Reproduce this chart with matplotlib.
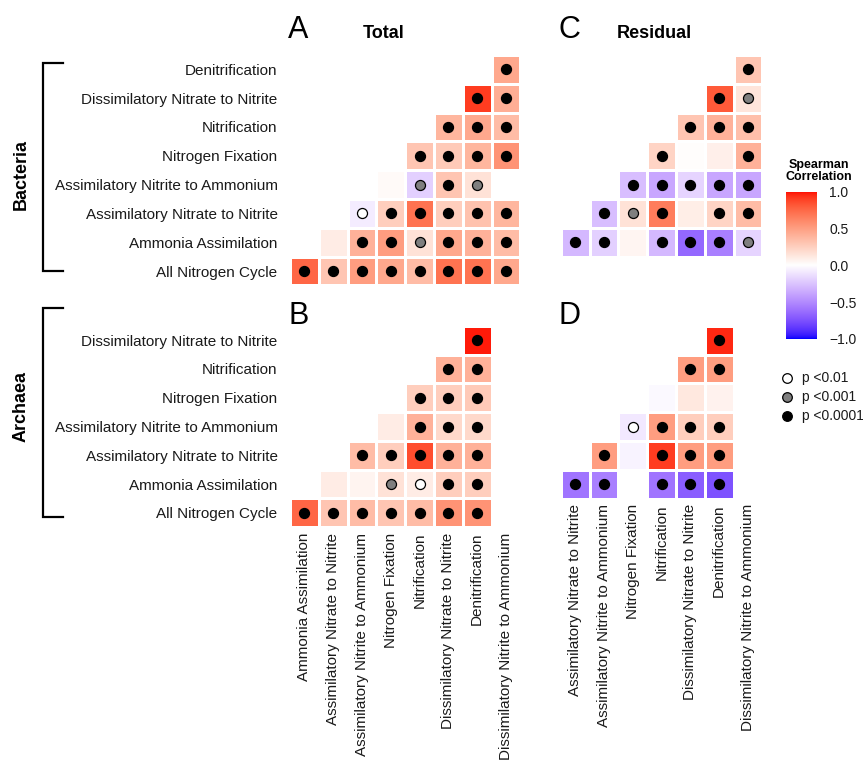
import numpy as np
import matplotlib
matplotlib.use("Agg")
import matplotlib.pyplot as plt
from matplotlib.colors import ListedColormap

plt.rcParams['font.family'] = ['Liberation Sans', 'DejaVu Sans']

W, H = 863, 762

# ---------------- data ----------------
AA = "Ammonia Assimilation"
ANO3 = "Assimilatory Nitrate to Nitrite"
ANO2 = "Assimilatory Nitrite to Ammonium"
NF = "Nitrogen Fixation"
NIT = "Nitrification"
DNO3 = "Dissimilatory Nitrate to Nitrite"
DEN = "Denitrification"
DNRA = "Dissimilatory Nitrite to Ammonium"
ALL = "All Nitrogen Cycle"

nan = np.nan

# Panel A: Total, Bacteria
a_rows = [DEN, DNO3, NIT, NF, ANO2, ANO3, AA, ALL]
a_cols = [AA, ANO3, ANO2, NF, NIT, DNO3, DEN, DNRA]
a_vals = [
    [nan, nan, nan, nan, nan, nan, nan, 0.45],
    [nan, nan, nan, nan, nan, nan, 0.90, 0.42],
    [nan, nan, nan, nan, nan, 0.38, 0.45, 0.35],
    [nan, nan, nan, nan, 0.30, 0.28, 0.38, 0.55],
    [nan, nan, nan, 0.03, -0.20, 0.30, 0.15, nan],
    [nan, nan, -0.08, 0.25, 0.70, 0.25, 0.32, 0.38],
    [nan, 0.10, 0.40, 0.50, 0.15, 0.45, 0.40, 0.35],
    [0.75, 0.30, 0.50, 0.45, 0.35, 0.70, 0.70, 0.45],
]
a_sig = [
    [0, 0, 0, 0, 0, 0, 0, 3],
    [0, 0, 0, 0, 0, 0, 3, 3],
    [0, 0, 0, 0, 0, 3, 3, 3],
    [0, 0, 0, 0, 3, 3, 3, 3],
    [0, 0, 0, 0, 2, 3, 2, 0],
    [0, 0, 1, 3, 3, 3, 3, 3],
    [0, 0, 3, 3, 2, 3, 3, 3],
    [3, 3, 3, 3, 3, 3, 3, 3],
]

# Panel C: Residual, Bacteria
c_rows = [DEN, DNO3, NIT, NF, ANO2, ANO3, AA]
c_cols = [ANO3, ANO2, NF, NIT, DNO3, DEN, DNRA]
c_vals = [
    [nan, nan, nan, nan, nan, nan, 0.30],
    [nan, nan, nan, nan, nan, 0.80, 0.14],
    [nan, nan, nan, nan, 0.30, 0.40, 0.33],
    [nan, nan, nan, 0.22, 0.01, 0.08, 0.40],
    [nan, nan, -0.28, -0.38, -0.18, -0.38, -0.38],
    [nan, -0.28, 0.15, 0.65, 0.09, 0.22, 0.35],
    [-0.30, -0.20, 0.05, -0.30, -0.65, -0.55, -0.18],
]
c_sig = [
    [0, 0, 0, 0, 0, 0, 3],
    [0, 0, 0, 0, 0, 3, 2],
    [0, 0, 0, 0, 3, 3, 3],
    [0, 0, 0, 3, 0, 0, 3],
    [0, 0, 3, 3, 3, 3, 3],
    [0, 3, 2, 3, 0, 3, 3],
    [3, 3, 0, 3, 3, 3, 2],
]

# Panel B: Total, Archaea
b_rows = [DNO3, NIT, NF, ANO2, ANO3, AA, ALL]
b_cols = [AA, ANO3, ANO2, NF, NIT, DNO3, DEN, DNRA]
b_vals = [
    [nan, nan, nan, nan, nan, nan, 0.97, nan],
    [nan, nan, nan, nan, nan, 0.40, 0.40, nan],
    [nan, nan, nan, nan, 0.25, 0.25, 0.28, nan],
    [nan, nan, nan, 0.10, 0.40, 0.20, 0.20, nan],
    [nan, nan, 0.35, 0.25, 0.85, 0.40, 0.40, nan],
    [nan, 0.10, 0.06, 0.15, 0.10, 0.25, 0.25, nan],
    [0.75, 0.30, 0.35, 0.30, 0.35, 0.55, 0.55, nan],
]
b_sig = [
    [0, 0, 0, 0, 0, 0, 3, 0],
    [0, 0, 0, 0, 0, 3, 3, 0],
    [0, 0, 0, 0, 3, 3, 3, 0],
    [0, 0, 0, 0, 3, 3, 3, 0],
    [0, 0, 3, 3, 3, 3, 3, 0],
    [0, 0, 0, 2, 1, 3, 3, 0],
    [3, 3, 3, 3, 3, 3, 3, 0],
]

# Panel D: Residual, Archaea
d_rows = [DNO3, NIT, NF, ANO2, ANO3, AA]
d_cols = [ANO3, ANO2, NF, NIT, DNO3, DEN, DNRA]
d_vals = [
    [nan, nan, nan, nan, nan, 0.95, nan],
    [nan, nan, nan, nan, 0.50, 0.50, nan],
    [nan, nan, nan, -0.03, 0.12, 0.07, nan],
    [nan, nan, -0.10, 0.50, 0.25, 0.25, nan],
    [nan, 0.50, -0.05, 0.90, 0.50, 0.50, nan],
    [-0.60, -0.55, nan, -0.60, -0.70, -0.75, nan],
]
d_sig = [
    [0, 0, 0, 0, 0, 3, 0],
    [0, 0, 0, 0, 3, 3, 0],
    [0, 0, 0, 0, 0, 0, 0],
    [0, 0, 1, 3, 3, 3, 0],
    [0, 3, 0, 3, 3, 3, 0],
    [3, 3, 0, 3, 3, 3, 0],
]

sig_labels = ["p <0.01", "p <0.001", "p <0.0001"]
sig_colors = ["white", "#7f7f7f", "black"]
cbar_ticks = [-1.0, -0.5, 0.0, 0.5, 1.0]


# ---------------- Lab colormap (blue-white-red, like ggplot gradient2) -------
def srgb_to_lin(c):
    c = np.asarray(c, float)
    return np.where(c <= 0.04045, c / 12.92, ((c + 0.055) / 1.055) ** 2.4)


def lin_to_srgb(c):
    c = np.clip(c, 0, 1)
    return np.where(c <= 0.0031308, 12.92 * c, 1.055 * c ** (1 / 2.4) - 0.055)


M = np.array([[0.4124, 0.3576, 0.1805], [0.2126, 0.7152, 0.0722], [0.0193, 0.1192, 0.9505]])
Minv = np.linalg.inv(M)
WHITE = np.array([0.95047, 1.0, 1.08883])


def f(t):
    d = 6 / 29
    return np.where(t > d ** 3, np.cbrt(t), t / (3 * d * d) + 4 / 29)


def finv(t):
    d = 6 / 29
    return np.where(t > d, t ** 3, 3 * d * d * (t - 4 / 29))


def rgb2lab(rgb):
    xyz = M @ srgb_to_lin(rgb) / WHITE
    fx, fy, fz = f(xyz)
    return np.array([116 * fy - 16, 500 * (fx - fy), 200 * (fy - fz)])


def lab2rgb(lab):
    L, a, b = lab
    fy = (L + 16) / 116
    fx = fy + a / 500
    fz = fy - b / 200
    xyz = np.array([finv(fx), finv(fy), finv(fz)]) * WHITE
    return lin_to_srgb(Minv @ xyz)


lab_b = rgb2lab([0, 0, 1])
lab_w = rgb2lab([1, 1, 1])
lab_r = rgb2lab([1, 0, 0])
cols = []
N = 256
for i in range(N):
    t = i / (N - 1) * 2 - 1
    if t < 0:
        lab = lab_w + (lab_b - lab_w) * (-t)
    else:
        lab = lab_w + (lab_r - lab_w) * t
    cols.append(np.clip(lab2rgb(lab), 0, 1))
cmap = ListedColormap(cols)


# ---------------- layout helpers ----------------
def rect(l, t, r, b):
    return [l / W, 1 - b / H, (r - l) / W, (b - t) / H]


fig = plt.figure(figsize=(W / 100, H / 100), dpi=100)

cw = 28.8


def panel(l, t, rows, colsl, vals, sig, ylab=False, xlab=False):
    nr, nc = len(rows), len(colsl)
    ax = fig.add_axes(rect(l, t, l + nc * cw, t + nr * cw))
    v = np.ma.masked_invalid(np.array(vals, float))
    ax.pcolormesh(np.arange(nc + 1), np.arange(nr + 1), v, cmap=cmap, vmin=-1, vmax=1,
                  edgecolors='white', linewidth=1.0)
    s = np.array(sig)
    for lev in (1, 2, 3):
        yy, xx = np.nonzero(s == lev)
        ax.scatter(xx + 0.5, yy + 0.5, s=52, c=sig_colors[lev - 1], edgecolors='black',
                   linewidths=0.9, zorder=3)
    ax.set_xlim(0, nc)
    ax.set_ylim(nr, 0)
    for sp in ax.spines.values():
        sp.set_visible(False)
    ax.tick_params(length=0)
    if ylab:
        ax.set_yticks(np.arange(nr) + 0.5)
        ax.set_yticklabels(rows, fontsize=11, color='#1a1a1a')
        ax.tick_params(axis='y', pad=9)
    else:
        ax.set_yticks([])
    if xlab:
        ax.set_xticks(np.arange(nc) + 0.5)
        ax.set_xticklabels(colsl, rotation=90, fontsize=11, color='#1a1a1a')
        ax.tick_params(axis='x', pad=4)
    else:
        ax.set_xticks([])
    return ax


panel(290, 55, a_rows, a_cols, a_vals, a_sig, ylab=True)
panel(560.7, 55, c_rows, c_cols, c_vals, c_sig)
panel(290, 325.7, b_rows, b_cols, b_vals, b_sig, ylab=True, xlab=True)
panel(560.7, 325.7, d_rows, d_cols, d_vals, d_sig, xlab=True)

# panel letters and titles
def ftext(x, y, s, **kw):
    fig.text(x / W, 1 - y / H, s, **kw)

ftext(288, 38, "A", fontsize=22, ha='left', va='baseline')
ftext(384, 37.5, "Total", fontsize=13, fontweight='bold', ha='center', va='baseline')
ftext(288, 324, "B", fontsize=22, ha='left', va='baseline')
ftext(558, 38, "C", fontsize=22, ha='left', va='baseline')
ftext(654, 37.5, "Residual", fontsize=13, fontweight='bold', ha='center', va='baseline')
ftext(558, 324, "D", fontsize=22, ha='left', va='baseline')

# brackets
def bracket(top, bot, label, yc):
    xs = [62.7 / W, 42.7 / W, 42.7 / W, 62.7 / W]
    ys = [1 - top / H, 1 - top / H, 1 - bot / H, 1 - bot / H]
    fig.add_artist(plt.Line2D(xs, ys, color='black', lw=1.6, solid_joinstyle='miter'))
    ftext(21, yc, label, fontsize=13, fontweight='bold', rotation=90, ha='center', va='center')

bracket(63.3, 270.5, "Bacteria", 174)
bracket(308, 516.5, "Archaea", 406)

# colorbar
cax = fig.add_axes(rect(786, 191.7, 816.7, 339))
grad = np.linspace(-1, 1, 256).reshape(-1, 1)
cax.imshow(grad, cmap=cmap, vmin=-1, vmax=1, aspect='auto', origin='lower',
           extent=[0, 1, -1, 1])
cax.set_xticks([])
cax.yaxis.tick_right()
cax.set_yticks(cbar_ticks)
cax.set_yticklabels(["\u22121.0", "\u22120.5", "0.0", "0.5", "1.0"], fontsize=10, color='#1a1a1a')
cax.tick_params(axis='y', length=0, pad=9)
for sp in cax.spines.values():
    sp.set_visible(False)
ftext(819, 180, "Spearman\nCorrelation", fontsize=9, fontweight='bold', ha='center',
      va='baseline', linespacing=1.0)

# significance legend
lax = fig.add_axes(rect(775, 367, 863, 425))
lax.set_xlim(0, 88)
lax.set_ylim(58, 0)
lax.axis('off')
for i, (lab, col) in enumerate(zip(sig_labels, sig_colors)):
    y = 10.7 + i * 19
    lax.scatter([12], [y], s=48, c=col, edgecolors='black', linewidths=0.9)
    lax.text(26.5, y, lab, fontsize=10, va='center', ha='left', color='#1a1a1a')

fig.savefig("out.png", dpi=100)
